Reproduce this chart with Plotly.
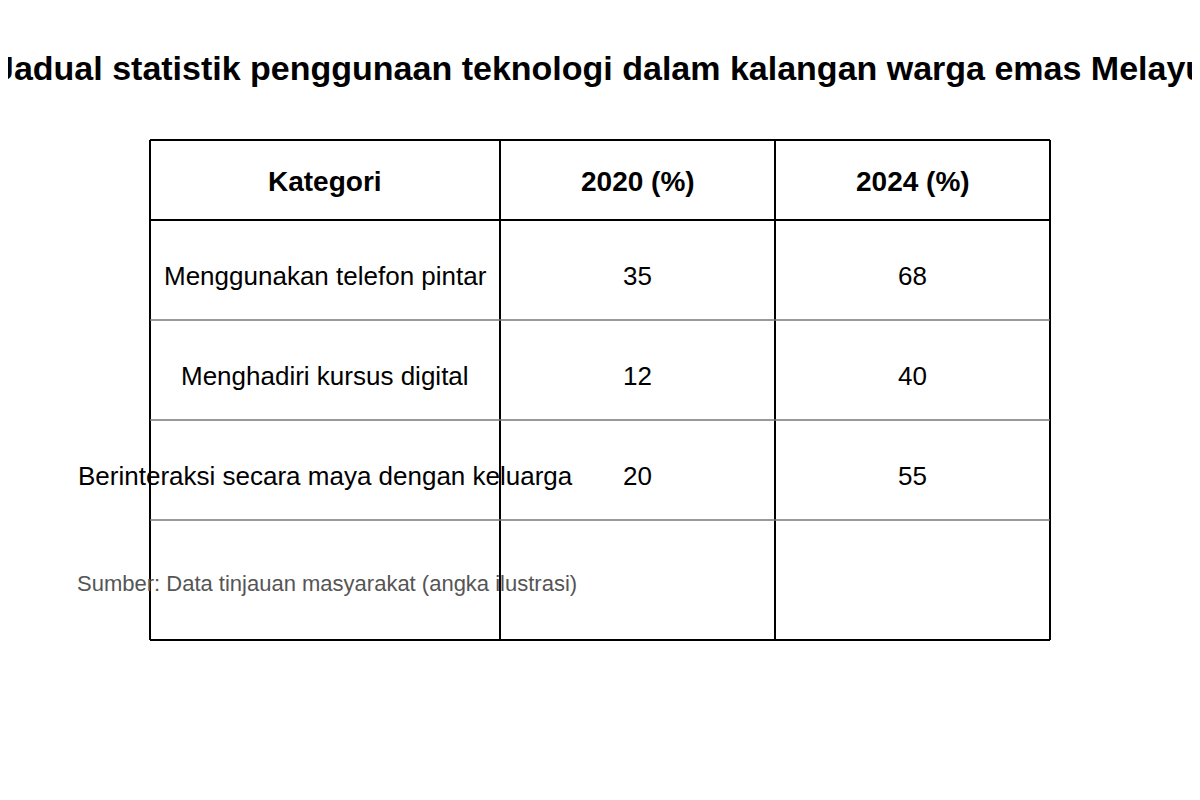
import plotly.graph_objects as go

headers = ["Kategori", "2020 (%)", "2024 (%)"]
categories = ["Menggunakan telefon pintar", "Menghadiri kursus digital",
              "Berinteraksi secara maya dengan keluarga"]
values_2020 = [35, 12, 20]
values_2024 = [68, 40, 55]
source = "Sumber: Data tinjauan masyarakat (angka ilustrasi)"

col_edges = [150, 500, 775, 1050]
row_edges = [140, 220, 320, 420, 520, 640]

fig = go.Figure()
FONT = "Liberation Sans, Arial, sans-serif"

# grid lines
for x in col_edges:
    fig.add_shape(type="line", x0=x, x1=x, y0=row_edges[0], y1=row_edges[-1],
                  line=dict(color="black", width=2))
for i, y in enumerate(row_edges):
    black = i in (0, 1, len(row_edges) - 1)
    fig.add_shape(type="line", x0=col_edges[0], x1=col_edges[-1], y0=y, y1=y,
                  line=dict(color="black" if black else "#777777", width=2 if black else 1.5))

def centre(i, edges):
    return (edges[i] + edges[i + 1]) / 2

for c, h in enumerate(headers):
    fig.add_annotation(x=centre(c, col_edges), y=centre(0, row_edges) + 1, text="<b>%s</b>" % h,
                       showarrow=False, font=dict(size=28, color="black", family=FONT))

for r in range(len(categories)):
    y = centre(r + 1, row_edges) + 6
    cells = [categories[r], values_2020[r], values_2024[r]]
    for c, v in enumerate(cells):
        fig.add_annotation(x=centre(c, col_edges), y=y, text=str(v), showarrow=False,
                           font=dict(size=26, color="black", family=FONT))

fig.add_annotation(x=75, y=583, text=source, showarrow=False, xanchor="left",
                   font=dict(size=22, color="#555555", family=FONT))

fig.add_annotation(x=600, y=68, text="<b>Jadual statistik penggunaan teknologi dalam kalangan warga emas Melayu</b>",
                   showarrow=False, font=dict(size=34, color="black", family=FONT))

# the page adds an 8px offset, so shift the visible window to compensate
fig.update_layout(
    width=1200, height=800, margin=dict(l=0, r=0, t=0, b=0),
    plot_bgcolor="white", paper_bgcolor="white", showlegend=False,
    xaxis=dict(range=[8, 1208], visible=False),
    yaxis=dict(range=[808, 8], visible=False),
)

fig.write_html("out.html")
